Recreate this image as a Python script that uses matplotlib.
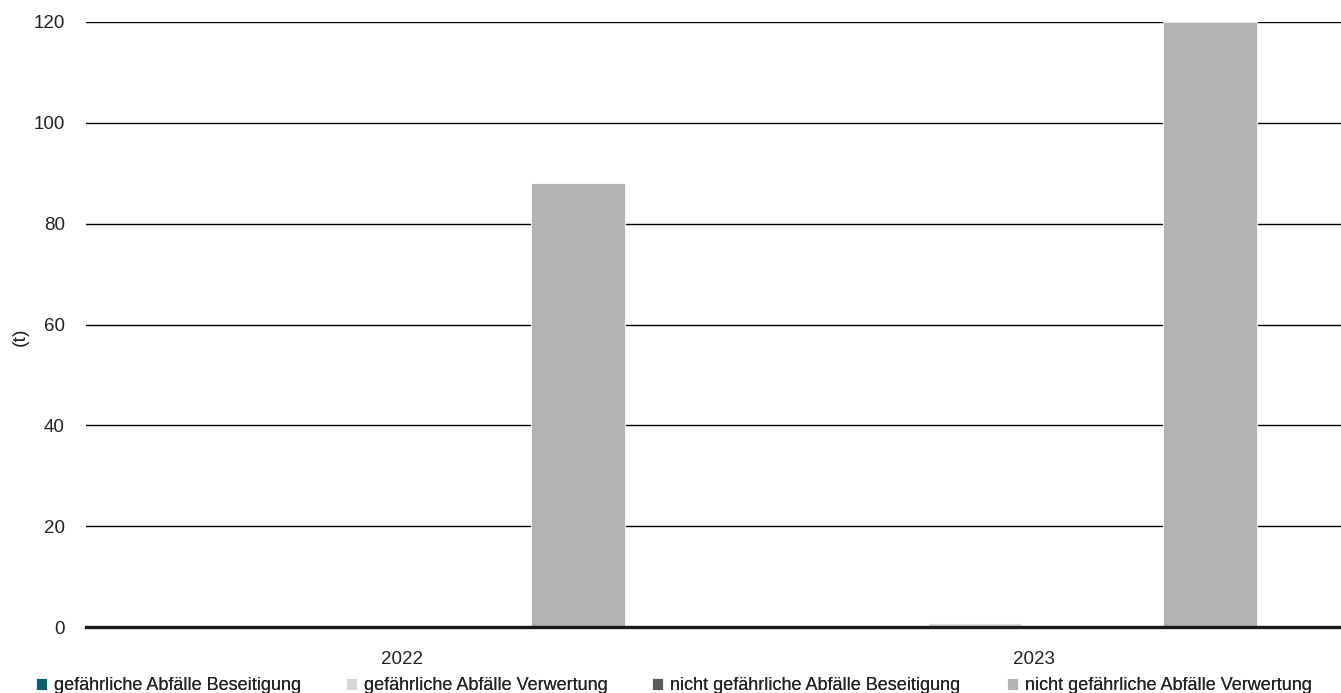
import matplotlib
matplotlib.use("Agg")
import matplotlib.pyplot as plt
import numpy as np

# Abfallmengen in Tonnen
years = ["2022", "2023"]
series_names = [
    "gefährliche Abfälle Beseitigung",
    "gefährliche Abfälle Verwertung",
    "nicht gefährliche Abfälle Beseitigung",
    "nicht gefährliche Abfälle Verwertung",
]
haz_disposal = [0.0, 0.0]
haz_recovery = [0.0, 0.8]
nonhaz_disposal = [0.0, 0.0]
nonhaz_recovery = [88.0, 120.0]
y_ticks = [0, 20, 40, 60, 80, 100, 120]

values = [haz_disposal, haz_recovery, nonhaz_disposal, nonhaz_recovery]
colors = ["#0b5e6b", "#d9d9d9", "#595959", "#b3b3b3"]

plt.rcParams["font.family"] = ["Liberation Sans", "DejaVu Sans"]

W, H = 1341, 693
fig = plt.figure(figsize=(W / 100, H / 100), dpi=100)
ax = fig.add_axes([85.5 / W, (H - 627) / H, 1 - 85.5 / W, (627 - 22) / H])

x = np.arange(len(years))
step = 0.186
width = 0.148
containers = []
for i, (vals, col) in enumerate(zip(values, colors)):
    c = ax.bar(x + (i - 1.5) * step, vals, width, color=col,
               edgecolor="white", linewidth=0.6, zorder=3, label=series_names[i])
    containers.append(c)

ax.set_xlim(-0.5, -0.5 + (W - 85.5) / 632.0)
ax.set_ylim(0, 120)
ax.set_yticks(y_ticks)
ax.set_yticklabels([str(t) for t in y_ticks], fontsize=13.5, color="#222222")
ax.set_xticks(x)
ax.set_xticklabels(years, fontsize=13.5, color="#222222")
ax.tick_params(axis="both", length=0)
ax.tick_params(axis="y", pad=15)
ax.tick_params(axis="x", pad=17)

for t in y_ticks[1:]:
    ax.axhline(t, color="black", linewidth=1.0, zorder=1)
ax.axhline(0, color="#1a1a1a", linewidth=2.4, zorder=4, clip_on=False)

for s in ax.spines.values():
    s.set_visible(False)

ax.set_ylabel("(t)", fontsize=14, color="#222222")
ax.yaxis.set_label_coords(-0.045, 0.48)

# Legendeneinträge in festen Spalten unter der Grafik
legend_x = [36, 346, 652, 1007]
for c, name, lx in zip(containers, series_names, legend_x):
    leg = fig.legend([c], [name], loc="center left",
                     bbox_to_anchor=(lx / W, (H - 686) / H),
                     frameon=False, fontsize=13, handlelength=0.6,
                     handleheight=0.6, handletextpad=0.4,
                     borderpad=0, borderaxespad=0, labelcolor="#222222")
    fig.add_artist(leg)

fig.savefig("out.png", dpi=100)
